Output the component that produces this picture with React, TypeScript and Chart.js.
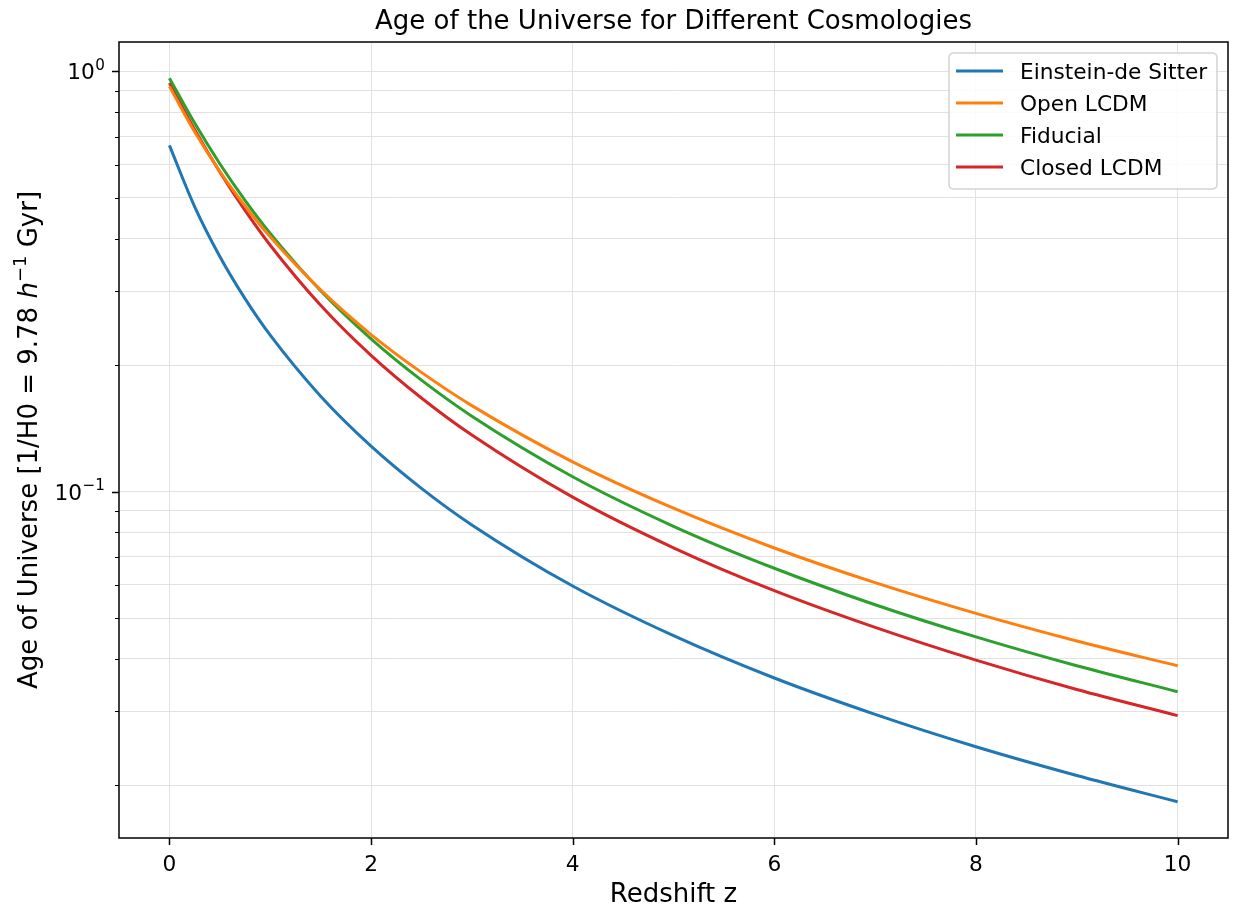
import { useEffect, useRef } from "react";
import { Chart, registerables } from "chart.js";

Chart.register(...registerables);

// ---- data ----
const redshift = [0, 0.25, 0.5, 0.75, 1, 1.5, 2, 2.5, 3, 4, 5, 6, 7, 8, 9, 10];
const einsteinDeSitter = [0.6667, 0.477, 0.3629, 0.288, 0.2357, 0.1687, 0.1283, 0.1018, 0.0833, 0.0596, 0.0454, 0.036, 0.0295, 0.0247, 0.0211, 0.01827];
const openLCDM = [0.9215, 0.7185, 0.5785, 0.4785, 0.404, 0.302, 0.2365, 0.1922, 0.1602, 0.1177, 0.0913, 0.0734, 0.0607, 0.0513, 0.0441, 0.0385];
const fiducial = [0.9641, 0.7535, 0.6032, 0.4936, 0.4118, 0.3007, 0.231, 0.1842, 0.1512, 0.1085, 0.0827, 0.0657, 0.0538, 0.0451, 0.0385, 0.0334];
const closedLCDM = [0.9392, 0.7277, 0.5765, 0.4669, 0.3859, 0.2777, 0.211, 0.167, 0.1363, 0.097, 0.0735, 0.0581, 0.0475, 0.0397, 0.0338, 0.0293];

const seriesLabels = ["Einstein-de Sitter", "Open LCDM", "Fiducial", "Closed LCDM"];
const seriesColors = ["#1f77b4", "#ff7f0e", "#2ca02c", "#d62728"];
const seriesValues = [einsteinDeSitter, openLCDM, fiducial, closedLCDM];

const xTicks = [0, 2, 4, 6, 8, 10];
const yMajorTicks = [0.1, 1];
const yMinorTicks = [0.02, 0.03, 0.04, 0.05, 0.06, 0.07, 0.08, 0.09, 0.2, 0.3, 0.4, 0.5, 0.6, 0.7, 0.8, 0.9];
const yMajorBase = ["10", "10"];
const yMajorExponents = ["−1", "0"];

const titleText = "Age of the Universe for Different Cosmologies";
const xLabelText = "Redshift z";

const FONT = "'DejaVu Sans', sans-serif";

const decorPlugin = {
  id: "decor",
  afterDraw(chart: any) {
    const ctx = chart.ctx as CanvasRenderingContext2D;
    const { left, right, top, bottom } = chart.chartArea;
    const xs = chart.scales.x;
    const ys = chart.scales.y;
    ctx.save();
    // frame
    ctx.strokeStyle = "#000";
    ctx.lineWidth = 1.5;
    ctx.strokeRect(left, top, right - left, bottom - top);
    // ticks
    ctx.lineWidth = 1.5;
    ctx.beginPath();
    xTicks.forEach((v) => {
      const px = Math.round(xs.getPixelForValue(v)) + 0.5;
      ctx.moveTo(px, bottom);
      ctx.lineTo(px, bottom + 7);
    });
    yMajorTicks.forEach((v) => {
      const py = Math.round(ys.getPixelForValue(v)) + 0.5;
      ctx.moveTo(left, py);
      ctx.lineTo(left - 7, py);
    });
    ctx.stroke();
    ctx.lineWidth = 1.2;
    ctx.beginPath();
    yMinorTicks.forEach((v) => {
      const py = Math.round(ys.getPixelForValue(v)) + 0.5;
      ctx.moveTo(left, py);
      ctx.lineTo(left - 4, py);
    });
    ctx.stroke();

    ctx.fillStyle = "#000";
    // y major tick labels (10 with superscript exponent)
    ctx.textBaseline = "alphabetic";
    ctx.textAlign = "left";
    yMajorTicks.forEach((v, i) => {
      const py = ys.getPixelForValue(v);
      ctx.font = `21.7px ${FONT}`;
      const wb = ctx.measureText(yMajorBase[i]).width;
      ctx.font = `15.2px ${FONT}`;
      const we = ctx.measureText(yMajorExponents[i]).width;
      const x0 = left - 14.5 - wb - we;
      ctx.font = `21.7px ${FONT}`;
      ctx.fillText(yMajorBase[i], x0, py + 8);
      ctx.font = `15.2px ${FONT}`;
      ctx.fillText(yMajorExponents[i], x0 + wb + 0.5, py - 1.5);
    });

    // title
    ctx.font = `26px ${FONT}`;
    ctx.textAlign = "center";
    ctx.fillText(titleText, (left + right) / 2, 29);
    // x label
    ctx.fillText(xLabelText, (left + right) / 2, 902);
    // y label (rotated, mixed styles)
    const segs = [
      { t: "Age of Universe [1/H0 = 9.78 ", f: `26px ${FONT}`, dy: 0 },
      { t: "h", f: `oblique 26px ${FONT}`, dy: 0 },
      { t: "−1", f: `18px ${FONT}`, dy: -11 },
      { t: " Gyr]", f: `26px ${FONT}`, dy: 0 },
    ];
    let total = 0;
    segs.forEach((s) => {
      ctx.font = s.f;
      total += ctx.measureText(s.t).width;
    });
    ctx.save();
    ctx.translate(37, (top + bottom) / 2);
    ctx.rotate(-Math.PI / 2);
    ctx.textAlign = "left";
    let cx = -total / 2;
    segs.forEach((s) => {
      ctx.font = s.f;
      ctx.fillText(s.t, cx, s.dy);
      cx += ctx.measureText(s.t).width;
    });
    ctx.restore();

    // legend
    const bw = 268;
    const bh = 136;
    const bx = right - 11 - bw;
    const by = top + 11;
    const r = 5;
    ctx.beginPath();
    ctx.moveTo(bx + r, by);
    ctx.lineTo(bx + bw - r, by);
    ctx.quadraticCurveTo(bx + bw, by, bx + bw, by + r);
    ctx.lineTo(bx + bw, by + bh - r);
    ctx.quadraticCurveTo(bx + bw, by + bh, bx + bw - r, by + bh);
    ctx.lineTo(bx + r, by + bh);
    ctx.quadraticCurveTo(bx, by + bh, bx, by + bh - r);
    ctx.lineTo(bx, by + r);
    ctx.quadraticCurveTo(bx, by, bx + r, by);
    ctx.closePath();
    ctx.fillStyle = "rgba(255,255,255,0.85)";
    ctx.fill();
    ctx.strokeStyle = "#d4d4d4";
    ctx.lineWidth = 1.5;
    ctx.stroke();
    ctx.font = `21.7px ${FONT}`;
    ctx.textAlign = "left";
    ctx.textBaseline = "alphabetic";
    chart.data.datasets.forEach((ds: any, i: number) => {
      const y = by + 18 + i * 32;
      ctx.strokeStyle = ds.borderColor;
      ctx.lineWidth = 3;
      ctx.beginPath();
      ctx.moveTo(bx + 7, y);
      ctx.lineTo(bx + 54, y);
      ctx.stroke();
      ctx.fillStyle = "#000";
      ctx.fillText(ds.label, bx + 71, y + 8);
    });
    ctx.restore();
  },
};

export default function App() {
  const canvasRef = useRef<HTMLCanvasElement | null>(null);

  useEffect(() => {
    document.body.style.margin = "0";
    const canvas = canvasRef.current;
    if (!canvas) return;
    const chart = new Chart(canvas, {
      type: "line",
      data: {
        datasets: seriesValues.map((vals, i) => ({
          label: seriesLabels[i],
          data: redshift.map((z, j) => ({ x: z, y: vals[j] })),
          borderColor: seriesColors[i],
          backgroundColor: seriesColors[i],
          borderWidth: 3,
          pointRadius: 0,
          fill: false,
          cubicInterpolationMode: "monotone" as const,
        })),
      },
      options: {
        responsive: false,
        animation: false,
        devicePixelRatio: 1,
        events: [],
        layout: { padding: { top: 42, right: 5, left: 0, bottom: 0 } },
        plugins: {
          legend: { display: false },
          tooltip: { enabled: false },
          title: { display: false },
        },
        scales: {
          x: {
            type: "linear",
            min: -0.5,
            max: 10.5,
            afterBuildTicks: (s: any) => {
              s.ticks = xTicks.map((v) => ({ value: v }));
            },
            afterFit: (s: any) => {
              s.height = 71;
            },
            ticks: {
              autoSkip: false,
              maxRotation: 0,
              padding: 14,
              color: "#000",
              font: { family: FONT, size: 21.7 },
              callback: (v: any) => String(v),
            },
            grid: { color: "#e2e2e2", lineWidth: 1, drawTicks: false },
            border: { display: false },
          },
          y: {
            type: "logarithmic",
            min: 0.01498,
            max: 1.1753,
            afterBuildTicks: (s: any) => {
              const all = [...yMinorTicks, ...yMajorTicks].sort((a, b) => a - b);
              s.ticks = all.map((v) => ({ value: v }));
            },
            afterFit: (s: any) => {
              s.width = 119;
            },
            ticks: {
              autoSkip: false,
              padding: 14,
              color: "#000",
              font: { family: FONT, size: 21.7 },
              callback: () => "",
            },
            grid: { color: "#e2e2e2", lineWidth: 1, drawTicks: false },
            border: { display: false },
          },
        },
      },
      plugins: [decorPlugin],
    });
    return () => chart.destroy();
  }, []);

  return (
    <div style={{ width: 1233, height: 909, background: "#fff" }}>
      <canvas ref={canvasRef} width={1233} height={909} style={{ display: "block", width: 1233, height: 909 }} />
    </div>
  );
}
